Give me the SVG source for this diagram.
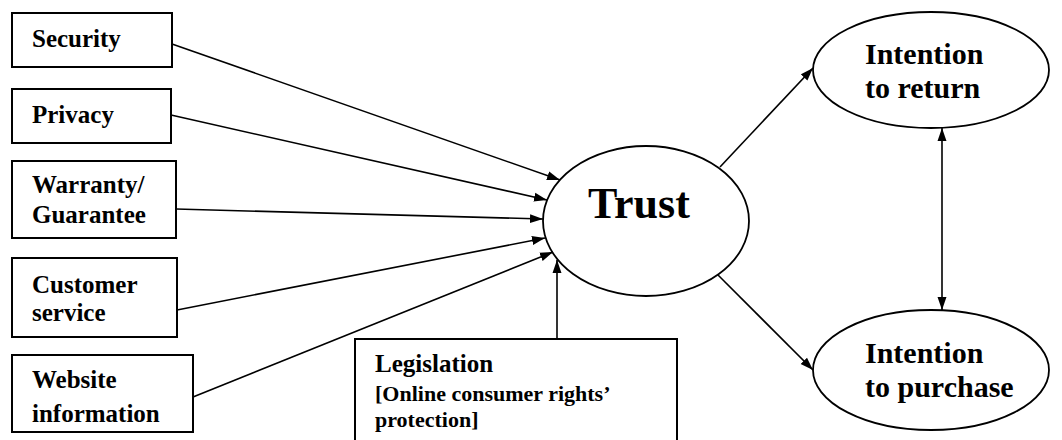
<svg xmlns="http://www.w3.org/2000/svg" width="1062" height="440" viewBox="0 0 1062 440">
<style>
.box{fill:#fff;stroke:#000;stroke-width:2}
.ell{fill:#fff;stroke:#000;stroke-width:1.8}
.t{font-family:"Liberation Serif","Times New Roman",serif;font-weight:bold;fill:#000}
.b{font-size:25px}
.conn line{stroke:#000;stroke-width:1.6}
</style>
<defs>
<marker id="ah" markerUnits="userSpaceOnUse" markerWidth="14" markerHeight="10" refX="13" refY="5" orient="auto-start-reverse">
<path d="M0,0.5 L13,5 L0,9.5 z" fill="#000"/>
</marker>
</defs>
<rect width="1062" height="440" fill="#fff"/>
<g id="security"><rect class="box" x="12" y="13" width="160" height="54"/><text class="t b" x="32" y="47">Security</text></g>
<g id="privacy"><rect class="box" x="12" y="89" width="159" height="54"/><text class="t b" x="32" y="123">Privacy</text></g>
<g id="warranty"><rect class="box" x="12" y="161" width="164" height="77"/><text class="t b" x="32" y="193">Warranty/</text><text class="t b" x="32" y="223">Guarantee</text></g>
<g id="customer"><rect class="box" x="12" y="258" width="165" height="79"/><text class="t b" x="32" y="293">Customer</text><text class="t b" x="32" y="321">service</text></g>
<g id="website"><rect class="box" x="12" y="355" width="181" height="77"/><text class="t b" x="32" y="388">Website</text><text class="t b" x="32" y="422">information</text></g>
<g id="legislation"><rect class="box" x="355" y="339" width="322" height="110"/><text class="t" font-size="25" x="375" y="372">Legislation</text><text class="t" font-size="22" x="375" y="401">[Online consumer rights’</text><text class="t" font-size="22" x="375" y="427">protection]</text></g>
<g id="trust"><ellipse class="ell" cx="646" cy="221" rx="103" ry="75"/><text class="t" font-size="44" x="588" y="218">Trust</text></g>
<g id="return"><ellipse class="ell" cx="931" cy="70" rx="118" ry="58"/><text class="t" font-size="30" x="865" y="64">Intention</text><text class="t" font-size="30" x="865" y="98">to return</text></g>
<g id="purchase"><ellipse class="ell" cx="931" cy="370" rx="118" ry="60"/><text class="t" font-size="30" x="865" y="363">Intention</text><text class="t" font-size="30" x="865" y="397">to purchase</text></g>
<g id="connectors" class="conn">
<line x1="172" y1="44" x2="560" y2="180" marker-end="url(#ah)"/>
<line x1="171" y1="115" x2="547" y2="200" marker-end="url(#ah)"/>
<line x1="176" y1="209" x2="543" y2="219" marker-end="url(#ah)"/>
<line x1="177" y1="310" x2="545" y2="238" marker-end="url(#ah)"/>
<line x1="193" y1="397" x2="553" y2="252" marker-end="url(#ah)"/>
<line x1="557" y1="339" x2="557" y2="260" marker-end="url(#ah)"/>
<line x1="720" y1="167" x2="813" y2="68" marker-end="url(#ah)"/>
<line x1="718" y1="275" x2="813" y2="370" marker-end="url(#ah)"/>
<line x1="942" y1="128" x2="942" y2="310" marker-start="url(#ah)" marker-end="url(#ah)"/>
</g>
</svg>
